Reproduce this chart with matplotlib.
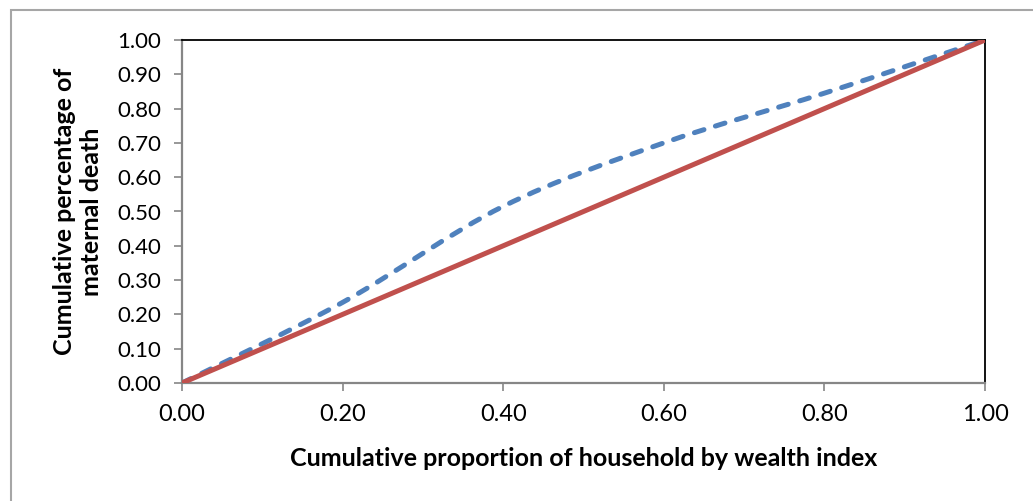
import matplotlib
matplotlib.use("Agg")
import matplotlib.pyplot as plt
from matplotlib.path import Path
from matplotlib.patches import PathPatch, Rectangle
from matplotlib.ticker import FormatStrFormatter, MultipleLocator
import numpy as np

plt.rcParams["font.family"] = ["Lato", "DejaVu Sans"]

# cumulative share of households (quintiles) and of maternal deaths
household_share = [0.0, 0.2, 0.4, 0.6, 0.8, 1.0]
death_share = [0.0, 0.235, 0.515, 0.70, 0.845, 1.0]
equality = [0.0, 0.2, 0.4, 0.6, 0.8, 1.0]


def smooth_path(xs, ys, tension=1 / 6):
    # bezier through each point, like a spreadsheet "smoothed line"
    xs = np.asarray(xs, float)
    ys = np.asarray(ys, float)
    pts = np.column_stack([xs, ys])
    n = len(pts)
    verts = [pts[0]]
    codes = [Path.MOVETO]
    for i in range(n - 1):
        p0 = pts[max(i - 1, 0)]
        p1 = pts[i]
        p2 = pts[i + 1]
        p3 = pts[min(i + 2, n - 1)]
        c1 = p1 + (p2 - p0) * tension
        c2 = p2 - (p3 - p1) * tension
        verts += [c1, c2, p2]
        codes += [Path.CURVE4] * 3
    return Path(verts, codes)


fig = plt.figure(figsize=(10.33, 5.01), dpi=100)
ax = fig.add_axes([182 / 1033, 1 - 383 / 501, (985 - 182) / 1033, (383 - 40) / 501])

# outer chart frame (only left and top edges fall inside the image)
fig.patches.append(Rectangle((11 / 1033, -0.1), 1.2, 1 - 10 / 501 + 0.1,
                             transform=fig.transFigure, fill=False,
                             edgecolor="#a6a6a6", linewidth=1.5))

ax.plot(household_share, equality, color="#c0504d", linewidth=3.6,
        solid_capstyle="butt", zorder=3)
curve = PathPatch(smooth_path(household_share, death_share), fill=False,
                  edgecolor="#4f81bd", linewidth=3.6, linestyle=(0, (2.0, 2.4)),
                  capstyle="round", zorder=2)
ax.add_patch(curve)

ax.set_xlim(0, 1)
ax.set_ylim(0, 1)
ax.xaxis.set_major_locator(MultipleLocator(0.2))
ax.yaxis.set_major_locator(MultipleLocator(0.1))
ax.xaxis.set_major_formatter(FormatStrFormatter("%.2f"))
ax.yaxis.set_major_formatter(FormatStrFormatter("%.2f"))

for side in ["left", "bottom"]:
    ax.spines[side].set_color("#868686")
    ax.spines[side].set_linewidth(1.6)
for side in ["top", "right"]:
    ax.spines[side].set_color("black")
    ax.spines[side].set_linewidth(1.3)

ax.tick_params(axis="both", direction="out", length=6, width=1.2, color="#868686")
ax.tick_params(axis="x", labelsize=17, pad=9)
ax.tick_params(axis="y", labelsize=16, pad=9)

ax.set_xlabel("Cumulative proportion of household by wealth index",
              fontsize=18, fontweight="bold")
ax.set_ylabel("Cumulative percentage of\nmaternal death",
              fontsize=18, fontweight="bold", linespacing=1.25)
ax.xaxis.set_label_coords(0.5, -0.219)
ax.yaxis.set_label_coords(-0.1295, 0.5)
ax.xaxis.label.set_va("center")
ax.yaxis.label.set_va("center")

fig.savefig("out.png", dpi=100)
